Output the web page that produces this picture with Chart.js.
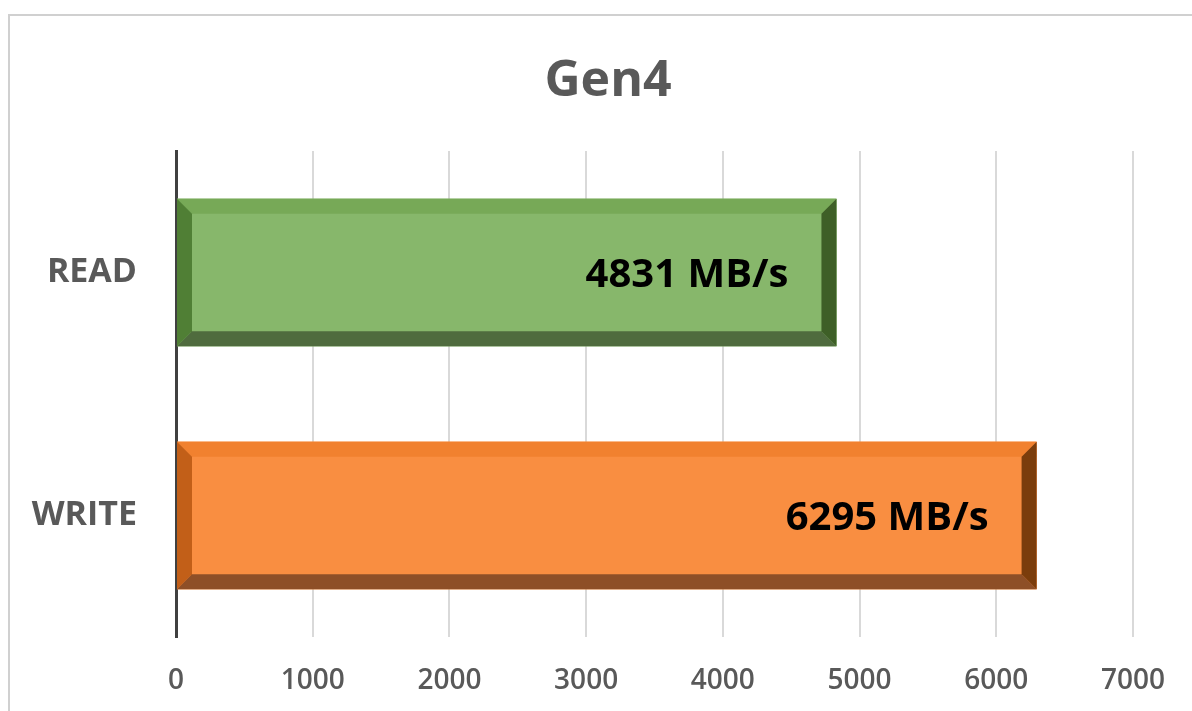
<!DOCTYPE html>
<html>
<head>
<meta charset="utf-8">
<title>Gen4</title>
<script src="https://cdn.jsdelivr.net/npm/chart.js@4"></script>
<style>
  html, body { margin: 0; padding: 0; background: #fff; }
  #wrap { position: relative; width: 1192px; height: 711px; }
</style>
</head>
<body>
<div id="wrap"><canvas id="gen4Chart"></canvas></div>
<script>
const chartTitle = 'Gen4';
const categories = ['READ', 'WRITE'];
const speeds = [4831, 6295];
const unit = 'MB/s';
const axisMin = 0;
const axisMax = 7000;
const axisStep = 1000;

// face / top / left / bottom / right shades for the bevelled bars
const barShades = [
    { face: '#87b76b', top: '#77a957', left: '#507f35', bottom: '#4f6b3e', right: '#3e5f27' },
    { face: '#f98e41', top: '#f1812f', left: '#c25f18', bottom: '#8e4f27', right: '#7b3d0c' }
];

const titleFont = 'bold 50px "Open Sans"';

// light frame along the top and left of the picture, and the title
// (the built-in title only reserves the space, it is drawn here a bit right of centre)
const framePlugin = {
    id: 'frame',
    beforeDraw(chart) {
        const ctx = chart.ctx;
        ctx.save();
        ctx.strokeStyle = '#d0d0d0';
        ctx.lineWidth = 2;
        ctx.beginPath();
        ctx.moveTo(9, chart.height);
        ctx.lineTo(9, 15);
        ctx.lineTo(chart.width, 15);
        ctx.stroke();

        const tb = chart.titleBlock;
        const opts = tb.options;
        const midY = tb.top + opts.padding.top + (tb.height - opts.padding.top - opts.padding.bottom) / 2;
        ctx.fillStyle = '#595959';
        ctx.font = titleFont;
        ctx.textAlign = 'center';
        ctx.textBaseline = 'middle';
        ctx.fillText(chartTitle, chart.width / 2 + 12, midY);
        ctx.restore();
    }
};

// bevel edges + value labels drawn on top of each bar
const bevelPlugin = {
    id: 'bevel',
    afterDatasetsDraw(chart) {
        const ctx = chart.ctx;
        const meta = chart.getDatasetMeta(0);
        meta.data.forEach((bar, i) => {
            const p = bar.getProps(['x', 'y', 'base', 'height'], true);
            const l = p.base, r = p.x;
            const t = p.y - p.height / 2, b = p.y + p.height / 2;
            const s = 15;
            const c = barShades[i % barShades.length];
            ctx.save();
            const poly = (pts, col) => {
                ctx.fillStyle = col;
                ctx.beginPath();
                ctx.moveTo(pts[0][0], pts[0][1]);
                pts.slice(1).forEach(q => ctx.lineTo(q[0], q[1]));
                ctx.closePath();
                ctx.fill();
            };
            poly([[l, t], [r, t], [r, b], [l, b]], c.face);
            poly([[l, t], [r, t], [r - s, t + s], [l + s, t + s]], c.top);
            poly([[l, t], [l + s, t + s], [l + s, b - s], [l, b]], c.left);
            poly([[l, b], [l + s, b - s], [r - s, b - s], [r, b]], c.bottom);
            poly([[r, t], [r, b], [r - s, b - s], [r - s, t + s]], c.right);

            ctx.fillStyle = '#000';
            ctx.font = 'bold 40px "Open Sans"';
            ctx.textAlign = 'right';
            ctx.textBaseline = 'middle';
            ctx.fillText(speeds[i] + ' ' + unit, r - 48, p.y + 3);
            ctx.restore();
        });
    }
};

new Chart(document.getElementById('gen4Chart'), {
    type: 'bar',
    data: {
        labels: categories,
        datasets: [{
            label: chartTitle,
            data: speeds,
            backgroundColor: barShades.map(c => c.face),
            borderWidth: 0,
            categoryPercentage: 1,
            barPercentage: 0.606
        }]
    },
    options: {
        indexAxis: 'y',
        responsive: true,
        maintainAspectRatio: false,
        animation: false,
        layout: { padding: { left: 0, right: 50, top: 0, bottom: 0 } },
        plugins: {
            legend: { display: false },
            tooltip: { enabled: false },
            title: {
                display: true,
                text: chartTitle,
                color: 'rgba(0,0,0,0)',
                font: { family: '"Open Sans"', size: 50, weight: 'bold' },
                padding: { top: 52, bottom: 39 }
            }
        },
        scales: {
            x: {
                min: axisMin,
                max: axisMax,
                ticks: {
                    stepSize: axisStep,
                    color: '#595959',
                    padding: 27,
                    font: { family: '"Open Sans"', size: 28, weight: '600' },
                    callback: v => String(v)
                },
                grid: { color: '#d9d9d9', lineWidth: 2, drawTicks: false },
                border: { display: false },
                afterFit(scale) { scale.height = 74; }
            },
            y: {
                ticks: {
                    color: '#595959',
                    padding: 39,
                    font: { family: '"Open Sans"', size: 34, weight: 'bold' }
                },
                grid: { display: false, drawTicks: false },
                border: { display: true, color: '#404040', width: 3 },
                afterFit(scale) { scale.width = 176; }
            }
        }
    },
    plugins: [framePlugin, bevelPlugin]
});
</script>
</body>
</html>
